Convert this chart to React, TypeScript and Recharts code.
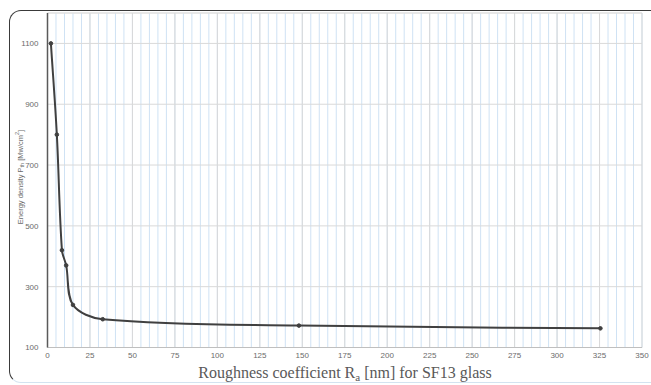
import React from 'react';
import { LineChart, Line, XAxis, YAxis, CartesianGrid, Label } from 'recharts';

// readings: roughness Ra [nm] vs energy density
const roughness = [2, 5.5, 8.5, 11, 15, 32.5, 148, 325.5];
const energy = [1100, 800, 420, 370, 240, 193, 172, 163];

const xTicks = [0, 25, 50, 75, 100, 125, 150, 175, 200, 225, 250, 275, 300, 325, 350];
const yTicks = [100, 300, 500, 700, 900, 1100];

// minor grid steps (5 nm, 40 units)
const xMinor: number[] = [];
for (let v = 0; v <= 350; v += 5) xMinor.push(v);
const yMinor: number[] = [];
for (let v = 100; v <= 1200; v += 40) yMinor.push(v);

const data = roughness.map((r, i) => ({ r, p: energy[i] }));

const TICK = { fontSize: 8, fill: '#6b6b6b', fontFamily: 'Liberation Sans, Arial, sans-serif' };

// spreadsheet-style smoothed line: bezier with control points scaled by neighbour distances
const smoothCurve = (context: any) => {
  let pts: number[][] = [];
  return {
    areaStart() {},
    areaEnd() {},
    lineStart() {
      pts = [];
    },
    point(x: number, y: number) {
      pts.push([+x, +y]);
    },
    lineEnd() {
      const n = pts.length;
      if (!n) return;
      context.moveTo(pts[0][0], pts[0][1]);
      const dist = (a: number[], b: number[]) => Math.hypot(b[0] - a[0], b[1] - a[1]);
      for (let i = 0; i < n - 1; i++) {
        const p0 = pts[Math.max(i - 1, 0)];
        const p1 = pts[i];
        const p2 = pts[i + 1];
        const p3 = pts[Math.min(i + 2, n - 1)];
        const d01 = dist(p0, p1);
        const d12 = dist(p1, p2);
        const d23 = dist(p2, p3);
        const k = 1 / 3;
        const f1 = d01 + d12 > 0 ? (k * d12) / (d01 + d12) : 0;
        const f2 = d12 + d23 > 0 ? (k * d12) / (d12 + d23) : 0;
        const c1x = p1[0] + (p2[0] - p0[0]) * f1;
        const c1y = p1[1] + (p2[1] - p0[1]) * f1;
        const c2x = p2[0] - (p3[0] - p1[0]) * f2;
        const c2y = p2[1] - (p3[1] - p1[1]) * f2;
        context.bezierCurveTo(c1x, c1y, c2x, c2y, p2[0], p2[1]);
      }
    },
  };
};

const YTitle = () => (
  <text
    x={20}
    y={177}
    transform="rotate(-90 20 177)"
    textAnchor="middle"
    dominantBaseline="central"
    fontSize={7.5}
    fill="#6b6b6b"
    fontFamily="Liberation Sans, Arial, sans-serif"
  >
    Energy density P<tspan fontSize={5.5} dy={2}>th</tspan>
    <tspan dy={-2}> [Mw/cm</tspan>
    <tspan fontSize={5.5} dy={-3}>2</tspan>
    <tspan dy={3}>]</tspan>
  </text>
);

const XTitle = () => (
  <text
    x={345}
    y={378}
    textAnchor="middle"
    fontSize={16}
    fill="#595959"
    fontFamily="Liberation Serif, Times New Roman, serif"
  >
    Roughness coefficient R<tspan fontSize={11} dy={3}>a</tspan>
    <tspan dy={-3}> [nm] for SF13 glass</tspan>
  </text>
);

export default function App() {
  return (
    <div style={{ position: 'absolute', left: 0, top: 0, width: 651, height: 385, background: '#fff', overflow: 'hidden' }}>
      <div
        style={{
          position: 'absolute',
          left: 9,
          top: 10,
          width: 700,
          height: 371,
          border: '1.5px solid #3a3a3a',
          borderBottomColor: '#d3e3f0',
          borderRadius: 12,
        }}
      />
      <div style={{ position: 'absolute', left: 0, top: 0 }}>
        <LineChart width={651} height={385} data={data} margin={{ top: 13, right: 9, bottom: 0, left: 0 }}>
          <XAxis xAxisId="minor" dataKey="r" type="number" domain={[0, 350]} ticks={xMinor} interval={0} hide />
          <YAxis yAxisId="minor" type="number" domain={[100, 1200]} ticks={yMinor} interval={0} hide />
          <CartesianGrid xAxisId="minor" yAxisId="minor" horizontal={false} stroke="#cfe2f4" strokeWidth={1} />
          <CartesianGrid xAxisId="minor" yAxisId="minor" vertical={false} stroke="#ececec" strokeWidth={1} />
          <CartesianGrid stroke="#d9d9d9" strokeWidth={1} />
          <XAxis
            dataKey="r"
            type="number"
            domain={[0, 350]}
            ticks={xTicks}
            interval={0}
            height={37.5}
            tickLine={false}
            tickSize={3}
            axisLine={{ stroke: '#bfbfbf' }}
            tick={TICK}
            allowDataOverflow
          >
            <Label content={<XTitle />} />
          </XAxis>
          <YAxis
            type="number"
            domain={[100, 1200]}
            ticks={yTicks}
            interval={0}
            width={47.5}
            tickLine={false}
            tickMargin={3}
            axisLine={{ stroke: '#5a5a5a', strokeWidth: 1.5 }}
            tick={TICK}
            allowDataOverflow
          >
            <Label content={<YTitle />} />
          </YAxis>
          <Line
            dataKey="p"
            type={smoothCurve as any}
            stroke="#404040"
            strokeWidth={2}
            dot={{ r: 1.8, fill: '#404040', stroke: '#404040', strokeWidth: 1 }}
            isAnimationActive={false}
          />
        </LineChart>
      </div>
    </div>
  );
}
